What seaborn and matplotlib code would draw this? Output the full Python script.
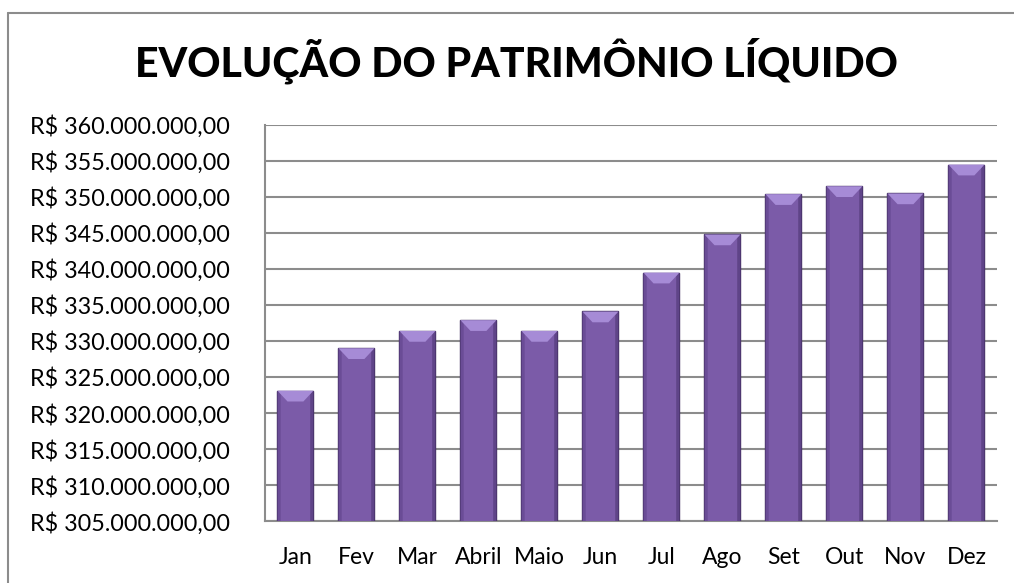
import matplotlib
matplotlib.use("Agg")
import matplotlib.pyplot as plt
import seaborn as sns
import pandas as pd
from matplotlib.patches import Polygon
from matplotlib.lines import Line2D
from matplotlib.ticker import FuncFormatter, MultipleLocator

months = ["Jan", "Fev", "Mar", "Abril", "Maio", "Jun", "Jul", "Ago", "Set", "Out", "Nov", "Dez"]
values = [323.1e6, 329.0e6, 331.4e6, 332.9e6, 331.4e6, 334.1e6,
          339.5e6, 344.8e6, 350.4e6, 351.5e6, 350.5e6, 354.5e6]
title = "EVOLUÇÃO DO PATRIMÔNIO LÍQUIDO"

sns.set_theme(style="white")
plt.rcParams["font.family"] = ["Lato", "DejaVu Sans"]
plt.rcParams["text.color"] = "black"

df = pd.DataFrame({"mes": months, "valor": values})

fig = plt.figure(figsize=(10.14, 5.83), dpi=100)
ax = fig.add_axes([0.2613, 0.1063, 0.7219, 0.6793])

sns.barplot(data=df, x="mes", y="valor", color="#7b5ba8", width=0.59,
            edgecolor="#3e2b5c", linewidth=1.0, saturation=1, ax=ax, zorder=3)

ax.set_ylim(305e6, 360e6)
ax.yaxis.set_major_locator(MultipleLocator(5e6))

def brl(v, pos):
    s = f"{v:,.2f}"
    s = s.replace(",", "X").replace(".", ",").replace("X", ".")
    return "R$ " + s

ax.yaxis.set_major_formatter(FuncFormatter(brl))
ax.set_xlabel("")
ax.set_ylabel("")
ax.grid(axis="y", color="#8c8c8c", linewidth=1.5, zorder=0)
ax.set_axisbelow(True)
for side in ["top", "right"]:
    ax.spines[side].set_visible(False)
for side in ["left", "bottom"]:
    ax.spines[side].set_color("#8c8c8c")
    ax.spines[side].set_linewidth(1.5)
ax.tick_params(axis="y", labelsize=16.8, pad=25, length=0, colors="black")
ax.tick_params(axis="x", labelsize=16.5, pad=19, length=0, colors="black")

# bevel and side shading derived from each bar's geometry
for p in ax.patches[:len(months)]:
    x0 = p.get_x()
    w = p.get_width()
    y0 = p.get_y()
    top = y0 + p.get_height()
    dx = w * 0.28
    dy = 1.5e6
    sw = w * 0.09
    ax.add_patch(Polygon([(x0, y0), (x0 + sw, y0), (x0 + sw, top - dy * 0.3), (x0, top)],
                         closed=True, facecolor="#6a4c96", edgecolor="none", zorder=4))
    ax.add_patch(Polygon([(x0 + w, y0), (x0 + w - sw, y0), (x0 + w - sw, top - dy * 0.3), (x0 + w, top)],
                         closed=True, facecolor="#5f4488", edgecolor="none", zorder=4))
    ax.add_patch(Polygon([(x0, top), (x0 + w, top), (x0 + w - dx, top - dy), (x0 + dx, top - dy)],
                         closed=True, facecolor="#a68bd6", edgecolor="none", zorder=4))

fig.suptitle(title, x=0.509, y=0.935, fontsize=29.5, fontweight="black", color="black")

# outer chart frame (top and left edges)
fig.add_artist(Line2D([0.0079, 1.0], [0.977, 0.977], transform=fig.transFigure, color="#8c8c8c", linewidth=1.5))
fig.add_artist(Line2D([0.0079, 0.0079], [0.0, 0.977], transform=fig.transFigure, color="#8c8c8c", linewidth=1.5))

fig.savefig("out.png", dpi=100)
